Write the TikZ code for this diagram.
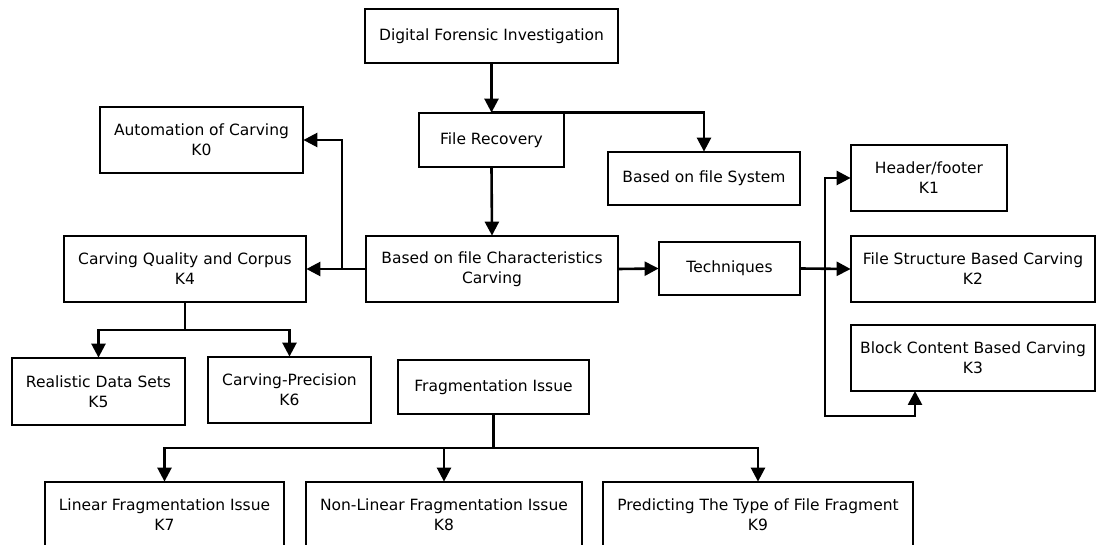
\documentclass[tikz,border=0pt]{standalone}
\usepackage{fontspec}
\setmainfont{DejaVu Sans}
\usetikzlibrary{arrows.meta,calc}
\begin{document}
\begin{tikzpicture}[x=1pt,y=-1pt,
  box/.style={draw, line width=2.6pt, align=center, inner sep=0pt, outer sep=0.4pt,
    font=\fontsize{15.5}{20}\selectfont},
  conn/.style={line width=2.6pt},
  arr/.style={line width=2.6pt, -{Triangle[length=14pt,width=14pt]}}]
\useasboundingbox (0,0) rectangle (1101,545);
% nodes
\node[box, minimum width=253pt, minimum height=54pt] (DFI) at (491.5,36) {Digital Forensic Investigation};
\node[box, minimum width=145pt, minimum height=54pt] (FR) at (491.5,140) {File Recovery};
\node[box, minimum width=203pt, minimum height=66pt] (K0) at (201.5,140) {Automation of Carving\\K0};
\node[box, minimum width=192pt, minimum height=53pt] (BFS) at (704,178.5) {Based on file System};
\node[box, minimum width=156pt, minimum height=66pt] (K1) at (929,178) {Header/footer\\K1};
\node[box, minimum width=242pt, minimum height=66pt] (K4) at (185,269) {Carving Quality and Corpus\\K4};
\node[box, minimum width=252pt, minimum height=66pt] (BFC) at (492,269) {Based on file Characteristics\\Carving};
\node[box, minimum width=141pt, minimum height=53pt] (TE) at (729.5,268.5) {Techniques};
\node[box, minimum width=244pt, minimum height=66pt] (K2) at (973,269) {File Structure Based Carving\\K2};
\node[box, minimum width=244pt, minimum height=66pt] (K3) at (973,358) {Block Content Based Carving\\K3};
\node[box, minimum width=173pt, minimum height=67pt] (K5) at (98.5,391.5) {Realistic Data Sets\\K5};
\node[box, minimum width=163pt, minimum height=66pt] (K6) at (289.5,390) {Carving-Precision\\K6};
\node[box, minimum width=191pt, minimum height=54pt] (FI) at (493.5,387) {Fragmentation Issue};
\node[box, minimum width=239pt, minimum height=66pt] (K7) at (164.5,515) {Linear Fragmentation Issue\\K7};
\node[box, minimum width=276pt, minimum height=66pt] (K8) at (444,515) {Non-Linear Fragmentation Issue\\K8};
\node[box, minimum width=310pt, minimum height=66pt] (K9) at (758,515) {Predicting The Type of File Fragment\\K9};
% junctions
\coordinate (j1) at (342,269);
\coordinate (j2) at (825,269);
\coordinate (j2b) at (825,416);
\coordinate (k3in) at (915,391);
\coordinate (j4) at (185,330);
\coordinate (j5) at (493.5,448);
% connectors
\draw[arr] (DFI.south) -- (FR.north);
\draw[arr] (FR.north) -| (BFS.north);
\draw[arr] (FR.south) -- (BFC.north);
\draw[arr] (BFC.west) -- (K4.east);
\draw[arr] (j1) |- (K0.east);
\draw[arr] (BFC.east) -- (TE.west);
\draw[arr] (TE.east) -- (K2.west);
\draw[arr] (j2) |- (K1.west);
\draw[arr] (j2) -- (j2b) -| (k3in);
\draw[conn] (K4.south) -- (j4);
\draw[arr] (j4) -| (K5.north);
\draw[arr] (j4) -| (K6.north);
\draw[conn] (FI.south) -- (j5);
\draw[arr] (j5) -| (K7.north);
\draw[arr] (j5) -| (K8.north);
\draw[arr] (j5) -| (K9.north);
\end{tikzpicture}
\end{document}
